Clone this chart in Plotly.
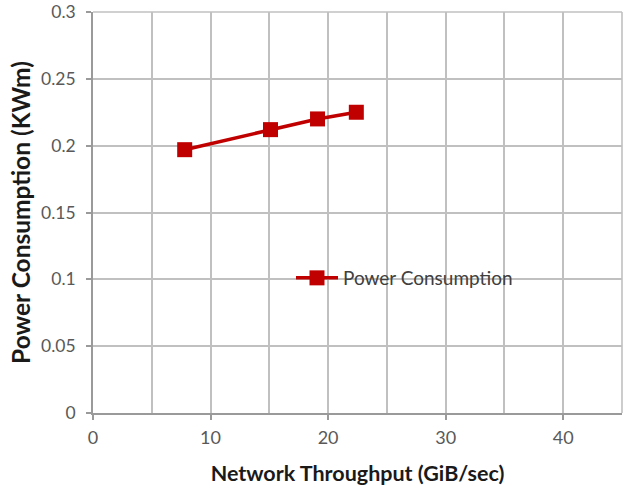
import plotly.graph_objects as go

throughput = [7.8, 15.1, 19.1, 22.4]
power = [0.197, 0.212, 0.220, 0.225]
series_name = "Power Consumption"
x_title = "Network Throughput (GiB/sec)"
y_title = "Power Consumption (KWm)"

RED = "#c00000"
GRID = "#c0c0c0"
AXIS = "#9a9a9a"
FONT = "Lato"

fig = go.Figure()
fig.add_trace(go.Scatter(
    x=throughput, y=power, mode="lines+markers", name=series_name,
    line=dict(color=RED, width=3.5),
    marker=dict(symbol="square", size=15, color=RED),
))

# white box behind the legend hiding the gridlines
fig.add_shape(type="rect", xref="paper", yref="paper",
              x0=(276 - 93) / 529, x1=(532 - 93) / 529,
              y0=(413 - 322) / 401, y1=(413 - 258) / 401,
              fillcolor="white", line=dict(width=0), layer="between")

fig.update_layout(
    width=630, height=487,
    margin=dict(l=93, r=8, t=12, b=74, autoexpand=False),
    paper_bgcolor="white", plot_bgcolor="white",
    font=dict(family=FONT, color="#595959", size=18),
    showlegend=True,
    legend=dict(x=(291 - 93) / 529, y=(413 - 278) / 401, xanchor="left", yanchor="middle",
                bgcolor="rgba(0,0,0,0)", borderwidth=0, itemwidth=42,
                font=dict(family=FONT, size=19, color="#404040")),
    xaxis=dict(range=[0, 45], dtick=10, tick0=0, showgrid=True, gridcolor=GRID, gridwidth=1.6,
               minor=dict(dtick=5, showgrid=True, gridcolor=GRID, gridwidth=1.6),
               showline=True, linecolor=AXIS, linewidth=1.6, mirror=False,
               ticks="outside", ticklen=5, tickcolor=AXIS, tickwidth=1.6,
               zeroline=False, automargin=False, ticklabelstandoff=3,
               ticklabeloverflow="allow",
               title=dict(text=x_title, font=dict(family=FONT, size=21.5, color="#1a1a1a", weight="bold"),
                          standoff=19),
               tickfont=dict(size=18, color="#595959")),
    yaxis=dict(range=[0, 0.3], dtick=0.05, tick0=0, showgrid=True, gridcolor=GRID, gridwidth=1.6,
               showline=True, linecolor=AXIS, linewidth=1.6,
               ticks="outside", ticklen=5, tickcolor=AXIS, tickwidth=1.6,
               zeroline=False, tickformat="~g", automargin=False, ticklabelstandoff=7,
               ticklabeloverflow="allow",
               title=dict(text=y_title, font=dict(family=FONT, size=24.5, color="#1a1a1a", weight="bold"),
                          standoff=4),
               tickfont=dict(size=17.5, color="#595959")),
)
# right and top border gridlines
fig.add_shape(type="line", xref="paper", yref="paper", x0=1, x1=1, y0=0, y1=1,
              line=dict(color=GRID, width=1.6), layer="between")
fig.add_shape(type="line", xref="paper", yref="paper", x0=0, x1=1, y0=1, y1=1,
              line=dict(color=GRID, width=1.6), layer="between")

fig.write_html("out.html")
